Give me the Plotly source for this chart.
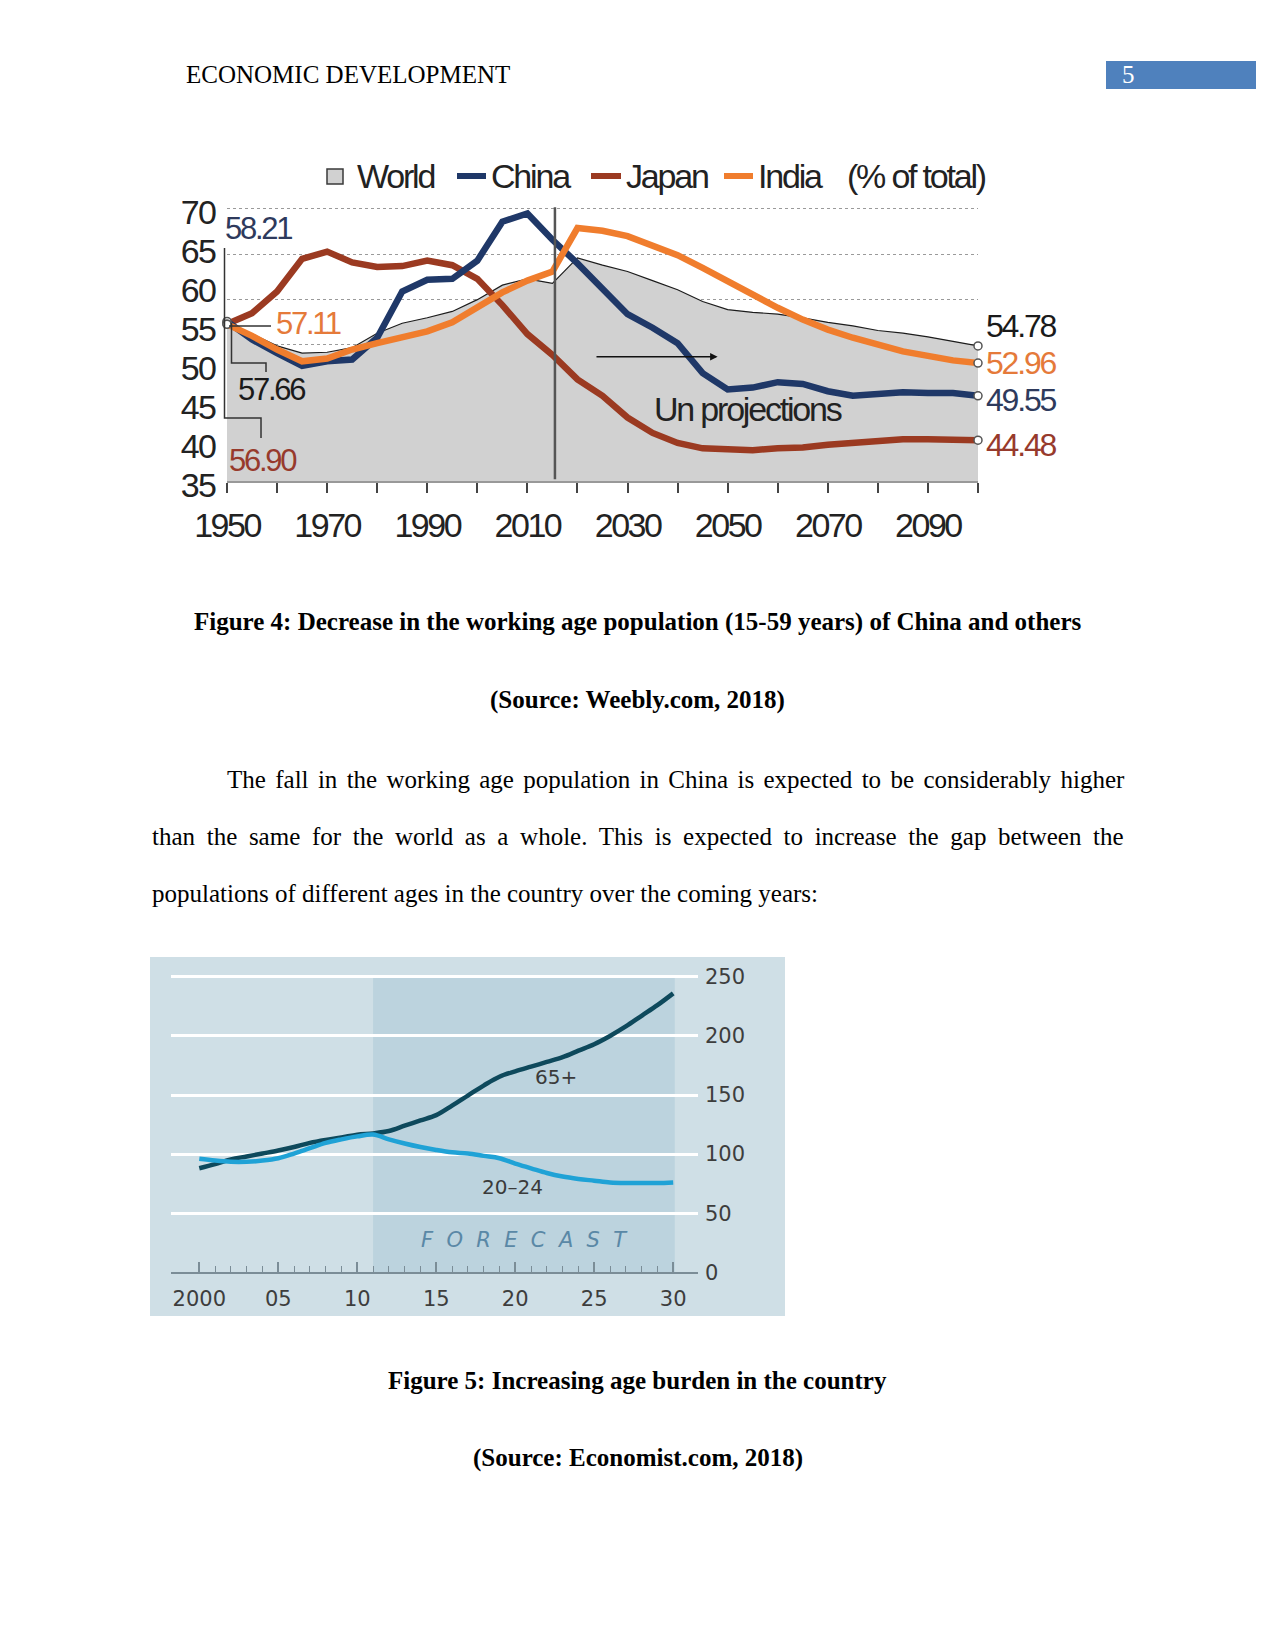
import plotly.graph_objects as go

W, H = 1275, 1650


def PX(x):
    return x / W


def PY(y):
    return 1 - y / H


def cond(text, ls):
    """Tighten letter spacing to imitate the condensed typeface of the original."""
    return "<span style='letter-spacing:%.1fpx'>%s</span>" % (ls, text)


# ---------------- Figure 4 data (working-age share, % of total) ----------------
years1 = list(range(1950, 2101, 5))
world = [57.5, 56.2, 54.9, 54.1, 54.2, 54.7, 56.3, 57.4, 58.0, 58.7, 60.0, 61.6, 62.3, 61.8,
         64.6, 63.8, 63.1, 62.1, 61.1, 59.8, 58.9, 58.6, 58.4, 58.0, 57.5, 57.1, 56.6, 56.3,
         55.9, 55.4, 54.9]
china = [57.6, 55.6, 54.1, 52.7, 53.2, 53.4, 55.8, 60.9, 62.2, 62.3, 64.3, 68.6, 69.5, 66.6,
         64.0, 61.1, 58.4, 56.9, 55.2, 51.9, 50.1, 50.3, 50.9, 50.7, 49.9, 49.4, 49.6, 49.8,
         49.7, 49.7, 49.4]
japan = [57.3, 58.5, 60.9, 64.5, 65.3, 64.1, 63.6, 63.7, 64.3, 63.8, 62.3, 59.4, 56.2, 53.9,
         51.2, 49.4, 47.0, 45.3, 44.2, 43.6, 43.5, 43.4, 43.6, 43.7, 44.0, 44.2, 44.5, 44.6,
         44.6, 44.6, 44.5]
india = [57.3, 56.0, 54.5, 53.2, 53.5, 54.5, 55.2, 55.8, 56.5, 57.5, 59.2, 60.8, 62.1, 63.1,
         67.9, 67.6, 67.0, 66.0, 64.9, 63.5, 62.0, 60.5, 59.1, 57.8, 56.7, 55.8, 55.1, 54.3,
         53.8, 53.3, 53.0]
series_names = ["World", "China", "Japan", "India"]
start_labels = ["57.66", "58.21", "56.90", "57.11"]
end_labels = ["54.78", "49.55", "44.48", "52.96"]
ytick_labels1 = [35, 40, 45, 50, 55, 60, 65, 70]
xtick_years1 = list(range(1950, 2101, 10))
xtick_text1 = ["1950", "", "1970", "", "1990", "", "2010", "", "2030", "", "2050", "", "2070",
               "", "2090", ""]
grid_vals1 = [55, 60, 65, 70]
projection_start = 2015.5

# ---------------- Figure 5 data (index) ----------------
years2 = list(range(2000, 2031))
age65 = [88, 91.5, 95.5, 98, 100.5, 103, 106, 109.5, 112, 114, 116.5, 117.5, 119.5, 124, 128.5,
         133, 141, 149.5, 158, 165.5, 170, 174, 178, 182, 187.5, 193, 200, 208, 217, 226, 236]
age2024 = [96, 94.5, 93.5, 93.5, 94.5, 96.5, 100.5, 105, 109.5, 112.5, 115, 116.5, 112.5, 109,
           106, 103.5, 101.5, 100.5, 98.5, 96.5, 92, 88, 84, 81, 79, 77.5, 76, 75.5, 75.5, 75.5, 76]
ytick_vals2 = [0, 50, 100, 150, 200, 250]
xtick_vals2 = [2000, 2005, 2010, 2015, 2020, 2025, 2030]
xtick_text2 = ["2000", "05", "10", "15", "20", "25", "30"]
forecast_start, forecast_end = 2011, 2030.1

# ---------------- styles ----------------
C_WORLD_FILL = "#d1d1d1"
C_WORLD_LINE = "#1c1c1c"
C_CHINA = "#1f3868"
C_JAPAN = "#9b3a21"
C_INDIA = "#f07d2d"
colors = {"World": C_WORLD_LINE, "China": C_CHINA, "Japan": C_JAPAN, "India": C_INDIA}
label_colors = {"World": "#1a1a1a", "China": "#2e3a5c", "Japan": "#973a2c", "India": "#e57a3a"}
SANS = "Liberation Sans, Arial, sans-serif"
SERIF = "Liberation Serif, Times New Roman, serif"
ECON = "DejaVu Sans, Verdana, sans-serif"

data1 = {"World": world, "China": china, "Japan": japan, "India": india}

fig = go.Figure()

# World area
fig.add_trace(go.Scatter(x=years1, y=world, mode="lines", fill="tozeroy",
                         fillcolor=C_WORLD_FILL, line=dict(color=C_WORLD_LINE, width=1.2),
                         xaxis="x", yaxis="y", hoverinfo="skip"))
for name in ["Japan", "China", "India"]:
    fig.add_trace(go.Scatter(x=years1, y=data1[name], mode="lines",
                             line=dict(color=colors[name], width=6.5),
                             xaxis="x", yaxis="y", name=name))
# end / start markers
for name in ["World", "China", "Japan", "India"]:
    s = data1[name]
    fig.add_trace(go.Scatter(x=[years1[0], years1[-1]], y=[s[0], s[-1]], mode="markers",
                             marker=dict(size=8, color="white",
                                         line=dict(color="#555555", width=1.5)),
                             cliponaxis=False, xaxis="x", yaxis="y", hoverinfo="skip"))
# invisible trace carrying the (misaligned) tick-label axis of the original
fig.add_trace(go.Scatter(x=[], y=[], xaxis="x", yaxis="y2", hoverinfo="skip"))

# Figure 5 traces
fig.add_trace(go.Scatter(x=years2, y=age65, mode="lines", line_shape="spline",
                         line=dict(color="#0e495c", width=4.5), xaxis="x2", yaxis="y3"))
fig.add_trace(go.Scatter(x=years2, y=age2024, mode="lines", line_shape="spline",
                         line=dict(color="#1fa2d6", width=4.5), xaxis="x2", yaxis="y3"))

annotations = []
shapes = []

# ---------- page text ----------
annotations.append(dict(x=PX(184), y=PY(75), xref="paper", yref="paper", xanchor="left",
                        yanchor="middle", showarrow=False, text="ECONOMIC DEVELOPMENT",
                        font=dict(family=SERIF, size=25, color="#000")))
shapes.append(dict(type="rect", xref="paper", yref="paper", x0=PX(1106), x1=PX(1256),
                   y0=PY(89), y1=PY(61), fillcolor="#4f81bd", line=dict(width=0)))
annotations.append(dict(x=PX(1120), y=PY(75), xref="paper", yref="paper", xanchor="left",
                        yanchor="middle", showarrow=False, text="5",
                        font=dict(family=SERIF, size=25, color="#ffffff")))

captions = [
    ("<b>Figure 4: Decrease in the working age population (15-59 years) of China and others</b>", 622),
    ("<b>(Source: Weebly.com, 2018)</b>", 700),
    ("<b>Figure 5: Increasing age burden in the country</b>", 1380),
    ("<b>(Source: Economist.com, 2018)</b>", 1458),
]
for txt, yy in captions:
    annotations.append(dict(x=PX(637.5), y=PY(yy), xref="paper", yref="paper", xanchor="center",
                            yanchor="middle", showarrow=False, text=txt,
                            font=dict(family=SERIF, size=25, color="#000")))

para = [
    ("The fall in the working age population in China is expected to be considerably higher", 225, 780, 3.1),
    ("than the same for the world as a whole. This is expected to increase the gap between the", 150, 836, 5.4),
    ("populations of different ages in the country over the coming years:", 150, 893, 0),
]
for txt, xx, yy, ws in para:
    t = "<span style='word-spacing:%.1fpx'>%s</span>" % (ws, txt) if ws else txt
    annotations.append(dict(x=PX(xx), y=PY(yy), xref="paper", yref="paper", xanchor="left",
                            yanchor="middle", showarrow=False, text=t,
                            font=dict(family=SERIF, size=25, color="#000")))

# ---------- Figure 4 legend ----------
shapes.append(dict(type="rect", xref="paper", yref="paper", x0=PX(327), x1=PX(343),
                   y0=PY(184), y1=PY(169), fillcolor=C_WORLD_FILL,
                   line=dict(color="#3a3a3a", width=1.5)))
leg_items = [("World", 355, None), ("China", 489, (457, 486, C_CHINA)),
             ("Japan", 624, (591, 621, C_JAPAN)), ("India", 756, (724, 753, C_INDIA)),
             ("(% of total)", 845, None)]
for txt, xx, dash in leg_items:
    annotations.append(dict(x=PX(xx), y=PY(176), xref="paper", yref="paper", xanchor="left",
                            yanchor="middle", showarrow=False, text=cond(txt, -2.2),
                            font=dict(family=SANS, size=34, color="#222")))
    if dash:
        shapes.append(dict(type="line", xref="paper", yref="paper", x0=PX(dash[0]),
                           x1=PX(dash[1]), y0=PY(176), y1=PY(176),
                           line=dict(color=dash[2], width=6)))

# ---------- Figure 4 annotations ----------
end_shift = {"World": 20, "China": -4.5, "Japan": -5, "India": 0}
for name, lab in zip(series_names, end_labels):
    annotations.append(dict(x=years1[-1], y=data1[name][-1], xref="x", yref="y",
                            xanchor="left", yanchor="middle", xshift=6,
                            yshift=end_shift[name], showarrow=False, text=cond(lab, -2.2),
                            font=dict(family=SANS, size=32, color=label_colors[name])))
start_pos = {"China": (223, 228), "India": (274, 324), "World": (236, 390), "Japan": (227, 460)}
for name, lab in zip(series_names, start_labels):
    xx, yy = start_pos[name]
    annotations.append(dict(x=PX(xx), y=PY(yy), xref="paper", yref="paper", xanchor="left",
                            yanchor="middle", showarrow=False, text=cond(lab, -2.3),
                            font=dict(family=SANS, size=31, color=label_colors[name])))
leaders = [
    [(224.5, 248), (224.5, 323)],
    [(229, 326), (271, 326)],
    [(231.5, 323), (231.5, 363), (266, 363), (266, 372)],
    [(224.5, 323), (224.5, 418), (261, 418), (261, 438)],
]
for pts in leaders:
    path = "M " + " L ".join("%.5f,%.5f" % (PX(a), PY(b)) for a, b in pts)
    shapes.append(dict(type="path", xref="paper", yref="paper", path=path,
                       line=dict(color="#333", width=1.5)))
shapes.append(dict(type="line", xref="x", yref="y", x0=projection_start, x1=projection_start,
                   y0=40.2, y1=70.2, line=dict(color="#555", width=2.5)))
annotations.append(dict(x=2048, y=53.7, ax=2023.5, ay=53.7, xref="x", yref="y", axref="x",
                        ayref="y", showarrow=True, arrowhead=2, arrowsize=1, arrowwidth=1.5,
                        arrowcolor="#111", text=""))
annotations.append(dict(x=2054, y=47.9, xref="x", yref="y", showarrow=False,
                        text=cond("Un projections", -2.2), xanchor="center", yanchor="middle",
                        font=dict(family=SANS, size=34, color="#222")))

# ---------- Figure 5 decorations ----------
shapes.insert(0, dict(type="rect", xref="paper", yref="paper", x0=PX(150), x1=PX(785),
                      y0=PY(1316), y1=PY(957), fillcolor="#cfdfe6", line=dict(width=0),
                      layer="below"))
shapes.insert(1, dict(type="rect", xref="x2", yref="y3", x0=forecast_start, x1=forecast_end,
                      y0=0, y1=249, fillcolor="#bcd3de", line=dict(width=0), layer="below"))
annotations.append(dict(x=2022.6, y=165, xref="x2", yref="y3", showarrow=False, text="65+",
                        font=dict(family=ECON, size=20, color="#3a3a3a")))
annotations.append(dict(x=2019.8, y=72.5, xref="x2", yref="y3", showarrow=False, text="20–24",
                        font=dict(family=ECON, size=20, color="#3a3a3a")))
annotations.append(dict(x=2020.6, y=27.4, xref="x2", yref="y3", showarrow=False,
                        text="<i>" + "\u00a0\u00a0".join("FORECAST") + "</i>",
                        font=dict(family=ECON, size=21, color="#5a88a6")))

fig.update_layout(
    width=W, height=H, autosize=False, showlegend=False,
    margin=dict(l=0, r=0, t=0, b=0, pad=0),
    paper_bgcolor="white", plot_bgcolor="rgba(0,0,0,0)",
    annotations=annotations, shapes=shapes,
    xaxis=dict(domain=[PX(227), PX(978)], range=[1950, 2100], anchor="y", automargin=False,
               tickmode="array", tickvals=xtick_years1,
               ticktext=[cond(t, -2.5) if t else "" for t in xtick_text1],
               ticks="outside", ticklen=10, tickwidth=1.5, tickcolor="#444",
               showline=True, linecolor="#999", linewidth=1.5, showgrid=False,
               zeroline=False, ticklabelstandoff=3,
               tickfont=dict(family=SANS, size=34, color="#222")),
    yaxis=dict(domain=[PY(481), PY(200)], range=[40.0, 70.99], anchor="x", automargin=False,
               tickmode="array", tickvals=grid_vals1, showticklabels=False, ticks="",
               showgrid=True, gridcolor="#9a9a9a", griddash="dot", gridwidth=1.2,
               zeroline=False, showline=False),
    yaxis2=dict(domain=[PY(495), PY(200)], range=[33.718, 71.538], anchor="free",
                automargin=False, position=PX(215), side="left", tickmode="array",
                tickvals=ytick_labels1, ticktext=[cond(str(v), -1.8) for v in ytick_labels1],
                ticks="", showgrid=False, zeroline=False, showline=False,
                tickfont=dict(family=SANS, size=34, color="#222")),
    xaxis2=dict(domain=[PX(171), PX(698)], range=[1998.21, 2031.57], anchor="y3",
                automargin=False, tickmode="array", tickvals=xtick_vals2, ticktext=xtick_text2,
                ticks="inside", ticklen=10, tickwidth=1.5, tickcolor="#7b8d97",
                minor=dict(tickmode="array", tickvals=years2, ticks="inside", ticklen=6,
                           tickwidth=1.2, tickcolor="#7b8d97", showgrid=False),
                showline=True, linecolor="#7b8d97", linewidth=2, showgrid=False,
                zeroline=False, ticklabelstandoff=6,
                tickfont=dict(family=ECON, size=21, color="#3d3d3d")),
    yaxis3=dict(domain=[PY(1272.3), PY(965)], range=[0, 260], anchor="x2", side="right",
                automargin=False, tickmode="array", tickvals=ytick_vals2, ticks="",
                showgrid=True, gridcolor="#ffffff", gridwidth=2.5, zeroline=False,
                showline=False, ticklabelstandoff=6,
                tickfont=dict(family=ECON, size=21, color="#3d3d3d")),
)

fig.write_html("out.html", config={"displayModeBar": False},
               post_script="document.body.style.margin='0px';")
